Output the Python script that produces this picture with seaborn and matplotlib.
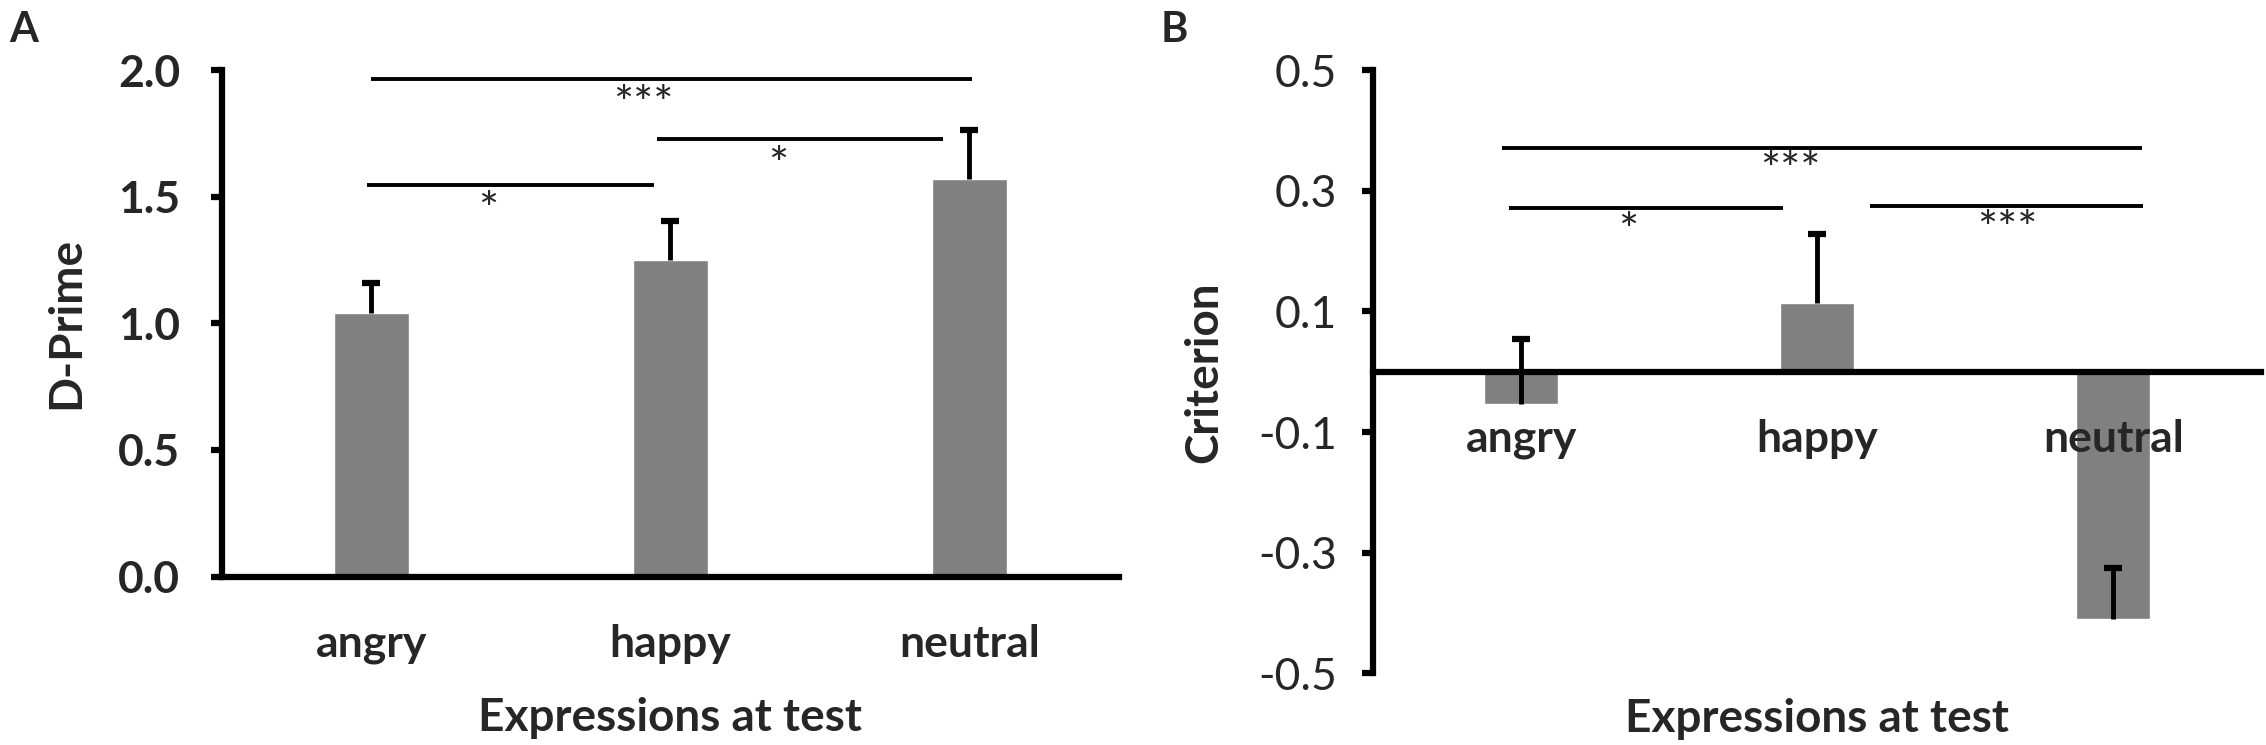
import matplotlib
matplotlib.use("Agg")
import matplotlib.pyplot as plt
import seaborn as sns
import numpy as np

# ---- data ----
categories = ["angry", "happy", "neutral"]
dprime = [1.04, 1.25, 1.57]
dprime_err = [0.12, 0.155, 0.195]
criterion = [-0.053, 0.114, -0.409]
criterion_err = [0.108, 0.115, 0.083]

dprime_ticks = [0.0, 0.5, 1.0, 1.5, 2.0]
dprime_ticklabels = ["0.0", "0.5", "1.0", "1.5", "2.0"]
criterion_ticks = [-0.5, -0.3, -0.1, 0.1, 0.3, 0.5]
criterion_ticklabels = ["-0.5", "-0.3", "-0.1", "0.1", "0.3", "0.5"]

# significance brackets: (x_start, x_end, y_line, label, x_label)
sig_A = [(0.0, 2.01, 1.966, "***", 0.91),
         (0.957, 1.912, 1.726, "*", 1.36),
         (-0.014, 0.945, 1.548, "*", 0.39)]
sig_B = [(-0.064, 2.096, 0.371, "***", 0.91),
         (-0.04, 0.884, 0.271, "*", 0.36),
         (1.178, 2.10, 0.274, "***", 1.64)]

sns.set_theme(style="white")
plt.rcParams['font.family'] = ['Lato', 'DejaVu Sans']

fig = plt.figure(figsize=(22.66, 7.45), dpi=100)
axA = fig.add_axes([0.0978, 0.226, 0.396, 0.68])
axB = fig.add_axes([0.606, 0.096, 0.392, 0.81])

bar_color = "#808080"
for ax, vals, errs in [(axA, dprime, dprime_err), (axB, criterion, criterion_err)]:
    sns.barplot(x=categories, y=vals, color=bar_color, saturation=1, width=0.25,
                errorbar=None, ax=ax, zorder=1)
    xs = np.arange(len(categories))
    v = np.array(vals)
    e = np.array(errs)
    ax.errorbar(xs, v, yerr=[np.zeros_like(e), e], fmt='none', ecolor='black',
                elinewidth=3.5, capsize=0, zorder=3)
    ax.plot(xs, v + e, linestyle='none', marker='_', markersize=13, mew=4.5,
            color='black', zorder=3)
    ax.set_xlim(-0.5, 2.5)
    for s in ['top', 'right']:
        ax.spines[s].set_visible(False)
    for s in ['left', 'bottom']:
        ax.spines[s].set_linewidth(4.5)
        ax.spines[s].set_color('black')
    ax.set_xlabel("Expressions at test", fontsize=33, fontweight='bold')

# Panel A
axA.set_ylim(0, 2.0)
axA.set_yticks(dprime_ticks)
axA.set_yticklabels(dprime_ticklabels, fontweight='bold')
axA.set_ylabel("D-Prime", fontsize=33, fontweight='bold')
axA.yaxis.set_label_coords(-0.15, 0.5)
axA.xaxis.set_label_coords(0.5, -0.238)
for x0, x1, y, lab, xl in sig_A:
    axA.plot([x0, x1], [y, y], color='black', lw=2.8, solid_capstyle='butt')
    axA.text(xl, y - 0.025, lab, ha='center', va='top', fontsize=34)

# Panel B
axB.set_ylim(-0.5, 0.5)
axB.spines['bottom'].set_position(('data', 0))
axB.set_yticks(criterion_ticks)
axB.set_yticklabels(criterion_ticklabels)
axB.set_ylabel("Criterion", fontsize=33, fontweight='bold')
axB.yaxis.set_label_coords(-0.166, 0.5)
axB.xaxis.set_label_coords(0.5, -0.04)
for x0, x1, y, lab, xl in sig_B:
    axB.plot([x0, x1], [y, y], color='black', lw=2.8, solid_capstyle='butt')
    axB.text(xl, y - 0.006, lab, ha='center', va='top', fontsize=34)

for ax, pad in [(axA, 22), (axB, 18)]:
    ax.set_xticks(range(len(categories)))
    ax.set_xticklabels(categories, fontweight='bold')
    ax.tick_params(axis='x', length=0, pad=34, labelsize=32)
    ax.tick_params(axis='y', direction='out', length=8, width=4.5, color='black',
                   left=True, labelsize=32, pad=pad)
    ax.xaxis.set_zorder(5)

fig.text(0.004, 0.985, "A", fontsize=30, fontweight='bold', va='top', ha='left')
fig.text(0.512, 0.985, "B", fontsize=30, fontweight='bold', va='top', ha='left')

fig.savefig("out.png", dpi=100)
